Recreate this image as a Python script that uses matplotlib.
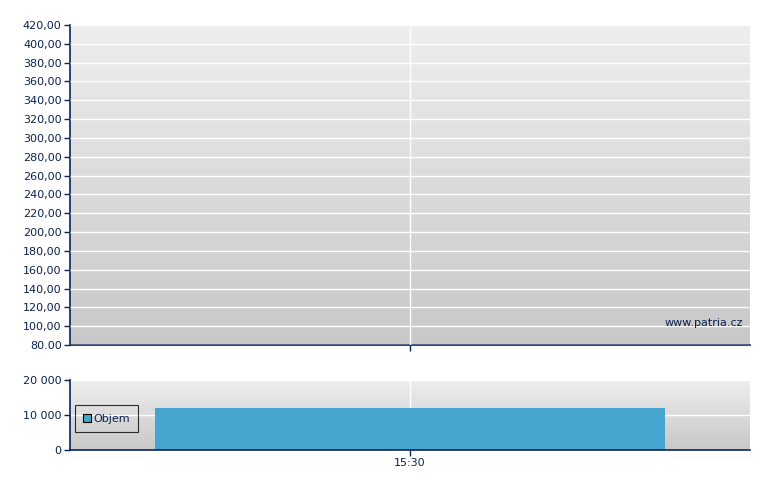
import matplotlib
matplotlib.use("Agg")
import matplotlib.pyplot as plt
import numpy as np

# Data
price_ticks = [80, 100, 120, 140, 160, 180, 200, 220, 240, 260, 280, 300, 320, 340, 360, 380, 400, 420]
price_tick_labels = ["80.00"] + [f"{v},00" for v in price_ticks[1:]]
vol_ticks = [0, 10000, 20000]
vol_tick_labels = ["0", "10 000", "20 000"]
times = ["15:30"]
time_pos = [0.5]
volumes = [12000]
bar_width = 0.75

navy = "#0b2150"
spine = "#0a2458"
bar_color = "#46a5ce"

plt.rcParams['font.family'] = ['DejaVu Sans']
fig = plt.figure(figsize=(7.8, 4.9), dpi=100)

def gradient(ax, top="#eeeeee", bottom="#c8c8c8"):
    c1 = np.array(matplotlib.colors.to_rgb(top))
    c2 = np.array(matplotlib.colors.to_rgb(bottom))
    t = np.linspace(0, 1, 256)[:, None]
    img = (c1 * (1 - t) + c2 * t)[:, None, :]
    ax.imshow(img, aspect='auto', extent=(0, 1, 0, 1), transform=ax.transAxes, zorder=0, interpolation='bilinear')

def style(ax):
    for s in ['top', 'right']:
        ax.spines[s].set_visible(False)
    for s in ['left', 'bottom']:
        ax.spines[s].set_color(spine)
        ax.spines[s].set_linewidth(1.2)
    ax.tick_params(colors=spine, labelcolor=navy, labelsize=8, length=4, width=1, pad=2)

# Main price axes
ax1 = fig.add_axes([70/780, 1-345/490, 680/780, 320/490])
gradient(ax1)
ax1.set_xlim(0, 1)
ax1.set_ylim(80, 420)
ax1.set_yticks(price_ticks)
ax1.set_yticklabels(price_tick_labels)
ax1.set_xticks(time_pos)
ax1.set_xticklabels([""])
ax1.grid(True, color="white", linewidth=1, zorder=1)
ax1.set_axisbelow(False)
style(ax1)
ax1.text(0.99, 0.07, "www.patria.cz", transform=ax1.transAxes, ha='right', va='center',
         fontsize=8, color=navy, zorder=3)

# Volume axes
ax2 = fig.add_axes([70/780, 1-450/490, 680/780, 70/490])
gradient(ax2)
ax2.set_xlim(0, 1)
ax2.set_ylim(0, 20000)
ax2.set_yticks(vol_ticks)
ax2.set_yticklabels(vol_tick_labels)
ax2.set_xticks(time_pos)
ax2.set_xticklabels(times)
ax2.grid(True, color="white", linewidth=1, zorder=1)
ax2.bar(time_pos, volumes, width=bar_width, color=bar_color, zorder=2, label="Objem")
style(ax2)
leg = ax2.legend(loc='center left', bbox_to_anchor=(5/680, 0.45), borderaxespad=0, fontsize=8,
                 frameon=True, fancybox=False, edgecolor="black", facecolor="none",
                 handlelength=0.7, handleheight=0.7, handletextpad=0.2, borderpad=0.75,
                 labelcolor=navy)
leg.get_frame().set_linewidth(0.8)
for h in leg.legend_handles:
    h.set_edgecolor("black")
    h.set_linewidth(0.8)

fig.savefig("out.png", dpi=100)
